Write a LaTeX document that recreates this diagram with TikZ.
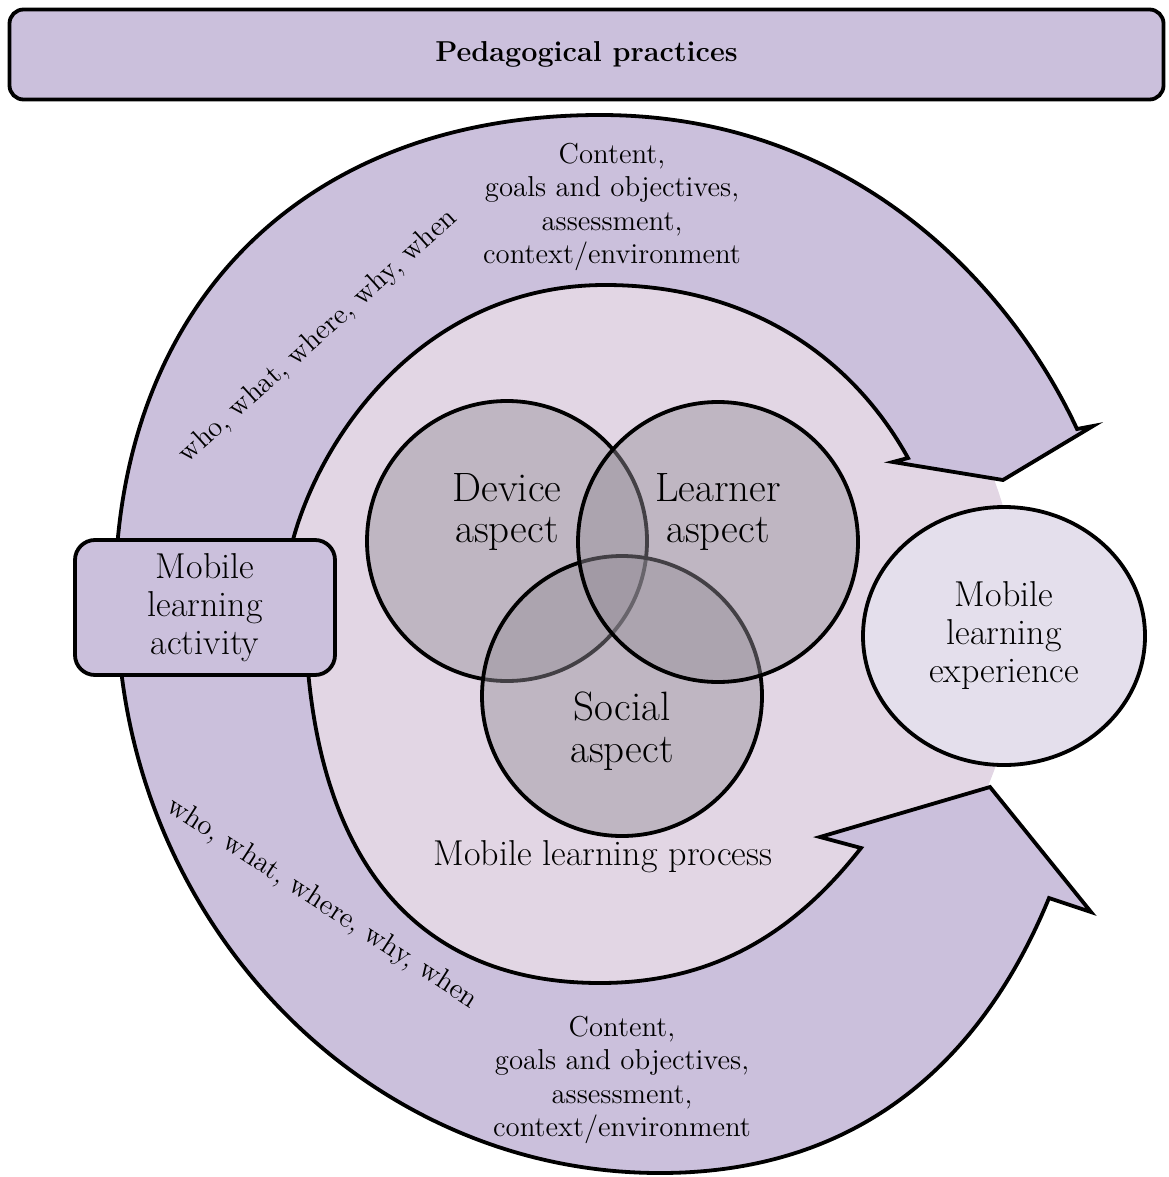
\documentclass[tikz,border=0pt]{standalone}
\usepackage{fontspec}
\usetikzlibrary{shapes.geometric}

\definecolor{bandfill}{RGB}{203,192,220}
\definecolor{pinkfill}{RGB}{226,214,228}
\definecolor{vennfill}{RGB}{150,144,154}
\definecolor{expfill}{RGB}{228,223,236}

\newcommand{\listfont}{\fontsize{14.4}{16.7}\selectfont}
\newcommand{\boxfont}{\fontsize{18}{19}\selectfont}
\newcommand{\aspectfont}{\fontsize{20.5}{20.8}\selectfont}

\tikzset{
  outline/.style={draw, line width=1.9pt},
  band/.style={outline, fill=bandfill, line join=miter, miter limit=12},
  venn/.style={outline, fill=vennfill, fill opacity=0.45},
  listtext/.style={align=center, inner sep=0pt, font=\listfont},
  boxtext/.style={align=center, inner sep=0pt, font=\boxfont},
  aspecttext/.style={align=center, inner sep=0pt, font=\aspectfont}
}

\begin{document}
\begin{tikzpicture}[x=0.5pt, y=-0.5pt]
  \useasboundingbox (0,0) rectangle (1168,1177);

  % title bar
  \node [outline, fill=bandfill, rounded corners=7pt, minimum width=577pt,
    minimum height=45pt, font=\listfont\bfseries] (practices) at (586.5,54.5)
    {Pedagogical practices};

  % process area
  \fill [pinkfill] (600,625) circle [radius=420];

  % upper arrow
  \draw [band] (115,625) -- (115,600)
    .. controls (115,304) and (304,115) .. (600,115)
    .. controls (860,115) and (1014,293) .. (1077,429)
    -- (1093,426) -- (1003,480) -- (893,462) -- (908,458)
    .. controls (855,362) and (755,285) .. (605,285)
    .. controls (393,285) and (284,493) .. (284,600)
    -- (284,625) -- cycle;

  % lower arrow
  \draw [band] (117,590) -- (117,600)
    .. controls (117,915) and (361,1173) .. (660,1173)
    .. controls (880,1173) and (992,1037) .. (1049,898)
    -- (1091,912) -- (990,787) -- (820,837) -- (861,848)
    .. controls (799,927) and (720,983) .. (600,983)
    .. controls (408,983) and (305,849) .. (305,600)
    -- (305,590) -- cycle;

  % activity and experience
  \node [outline, fill=bandfill, rounded corners=10pt, minimum width=130pt,
    minimum height=67.5pt, boxtext] (activity) at (205,607.5)
    {Mobile\\learning\\activity};
  \node [outline, ellipse, fill=expfill, minimum width=141pt,
    minimum height=129pt, boxtext] (experience) at (1004,636)
    {Mobile\\learning\\experience};

  % the three aspects
  \foreach \cx/\cy in {507/541, 622/696, 718/542}{
    \draw [venn] (\cx,\cy) circle [radius=140];
  }
  \node [aspecttext] (device) at (507,512) {Device\\aspect};
  \node [aspecttext] (learner) at (718,512) {Learner\\aspect};
  \node [aspecttext] (social) at (622,731) {Social\\aspect};

  % labels
  \node [boxtext] (process) at (603,857) {Mobile learning process};
  \node [listtext] (upperlist) at (612,207)
    {Content,\\goals and objectives,\\assessment,\\context/environment};
  \node [listtext] (lowerlist) at (622,1080)
    {Content,\\goals and objectives,\\assessment,\\context/environment};
  \node [listtext, rotate=42] (upperwho) at (318.5,336.5)
    {who, what, where, why, when};
  \node [listtext, rotate=-33] (lowerwho) at (322,903.5)
    {who, what, where, why, when};
\end{tikzpicture}
\end{document}
